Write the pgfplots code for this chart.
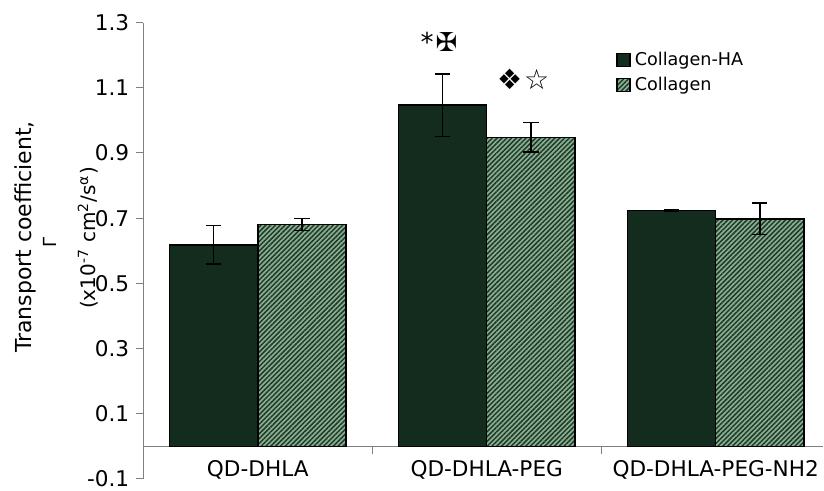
\documentclass[border=0pt]{standalone}
\usepackage{pgfplots}
\pgfplotsset{compat=1.18}
\usepackage{fontspec}
\setmainfont{DejaVu Sans}
\usetikzlibrary{patterns.meta}
\definecolor{barDark}{RGB}{20,44,30}
\definecolor{hatchLight}{RGB}{135,178,145}
\definecolor{hatchDark}{RGB}{35,55,42}
\definecolor{axisgray}{RGB}{128,128,128}
\pgfplotsset{sqlegend/.style={legend image code/.code={\draw[##1] (0pt,-3pt) rectangle (6.5pt,3.5pt);}}}
\begin{document}
\begin{tikzpicture}
\useasboundingbox (-71.65pt,-6pt) rectangle (340.35pt,239.5pt);
\begin{axis}[
  scale only axis, width=340pt, height=228.2pt,
  at={(0,0)}, anchor=south west,
  xmin=-0.5, xmax=2.47, ymin=-0.1, ymax=1.3,
  axis y line=left, axis x line=middle,
  axis line style={-, draw=axisgray, line width=0.5pt},
  ybar=0pt, bar width=0.386,
  ytick={-0.1,0.1,0.3,0.5,0.7,0.9,1.1,1.3},
  tick align=outside,
  major tick length=3.5pt, minor tick length=4pt,
  ytick style={draw=axisgray, line width=0.5pt},
  yticklabel style={font=\fontsize{10.8}{12}\selectfont},
  xtick={0,1,2},
  xticklabels={QD-DHLA,QD-DHLA-PEG,QD-DHLA-PEG-NH2},
  minor xtick={0.5,1.5},
  major x tick style={draw=none},
  minor x tick style={draw=axisgray, line width=0.5pt},
  xticklabel style={font=\fontsize{10.8}{12}\selectfont, yshift=0pt},
  /pgf/number format/.cd, assume math mode=true, fixed, fixed zerofill, precision=1,
  /pgfplots/.cd,
  legend style={draw=none, fill=none, at={(0.695,0.945)}, anchor=north west,
    font=\fontsize{8.8}{10}\selectfont, row sep=0.5pt, inner sep=0pt},
  legend cell align=left,
  error bars/error bar style={black, line width=0.75pt},
  error bars/error mark options={black, line width=0.75pt, mark size=3.8pt, rotate=90},
  clip=false,
]
\addplot[fill=barDark, draw=black, line width=0.75pt, sqlegend,
  error bars/.cd, y dir=both, y explicit]
  coordinates {(0,0.618) +- (0,0.059) (1,1.047) +- (0,0.096) (2,0.724) +- (0,0.003)};
\addlegendentry{Collagen-HA}
\addplot[fill=hatchLight, draw=black, line width=0.75pt, sqlegend,
  postaction={pattern={Lines[angle=45,distance=1.7pt,line width=0.75pt]}, pattern color=hatchDark},
  error bars/.cd, y dir=both, y explicit]
  coordinates {(0,0.681) +- (0,0.018) (1,0.948) +- (0,0.045) (2,0.698) +- (0,0.048)};
\addlegendentry{Collagen}
\node[font=\fontsize{13}{15}\selectfont] at (axis cs:0.792,1.241) {*\kern1pt✠};
\node[font=\fontsize{14}{16}\selectfont] at (axis cs:1.159,1.127) {❖\kern1pt☆};
\end{axis}
\node[rotate=90, font=\fontsize{11}{13}\selectfont] at (-59.15pt,121pt) {Transport coefficient,};
\node[rotate=90, font=\fontsize{9}{11}\selectfont] at (-46.65pt,118.5pt) {Γ};
\node[rotate=90, font=\fontsize{10}{12}\selectfont] at (-27.65pt,120.5pt) {(x10\textsuperscript{-7} cm\textsuperscript{2}/s\textsuperscript{α})};
\end{tikzpicture}
\end{document}
